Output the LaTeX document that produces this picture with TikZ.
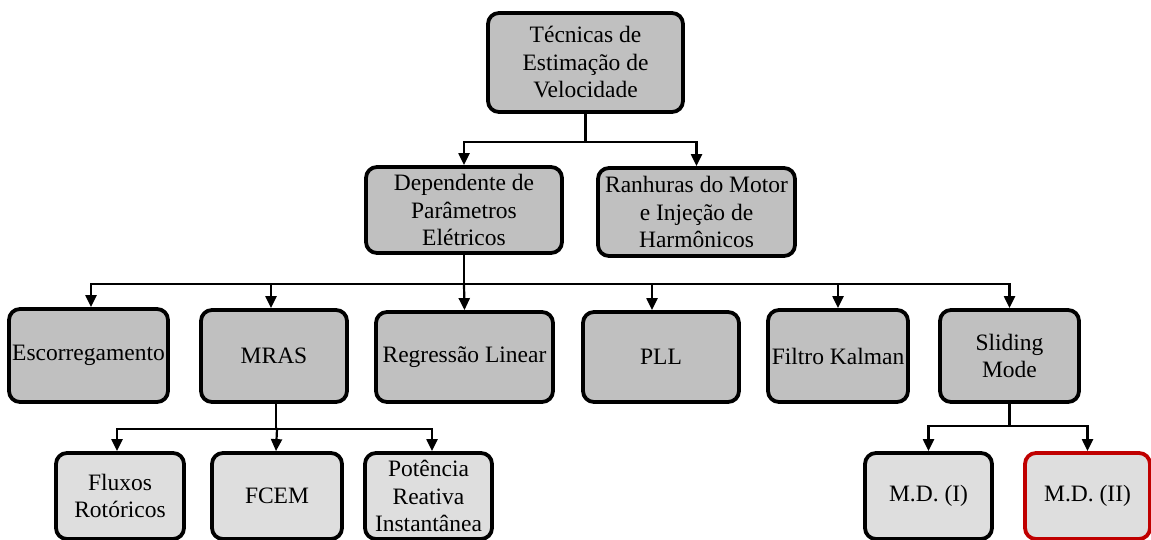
\documentclass[tikz,border=0pt]{standalone}
\usepackage{fontspec}
\setmainfont{Liberation Serif}
\newfontfamily\boxfont{Liberation Serif}
\usetikzlibrary{arrows.meta}
\definecolor{boxgray}{HTML}{C0C0C0}
\definecolor{leafgray}{HTML}{DEDEDE}
\definecolor{darkred}{HTML}{C00000}
\begin{document}
\begin{tikzpicture}[x=1pt,y=-1pt,
  every node/.style={font=\boxfont\fontsize{23.5}{27.5}\selectfont, align=center, inner sep=0pt},
  blk/.style={draw=black, line width=3.8pt, rounded corners=11pt, fill=boxgray,
              minimum width=#1, minimum height=88pt},
  blk/.default=150pt,
  leaf/.style={blk=#1, fill=leafgray, minimum height=86pt},
  conn/.style={draw=black, line width=2.2pt},
  arr/.style={conn, -{Triangle[length=12pt,width=11pt]}}]
\useasboundingbox (0,0) rectangle (1151,540);

% root
\node[blk=195pt, minimum height=99pt] (root) at (585.5,62.5)
  {Técnicas de\\Estimação de\\Velocidade};

% second level
\node[blk=196pt, minimum height=86pt] (dep) at (464,210)
  {Dependente de\\Parâmetros\\Elétricos};
\node[blk=197pt] (ran) at (696.5,212)
  {Ranhuras do Motor\\e Injeção de\\Harmônicos};

% third level
\node[blk=159pt, minimum height=93pt] (esc) at (88.5,355.5) {Escorregamento};
\node[blk=146pt, minimum height=92pt] (mras) at (274,356) {MRAS};
\node[blk=177pt, minimum height=90pt] (reg) at (464.5,357) {Regressão Linear};
\node[blk=156pt, minimum height=90pt] (pll) at (661,357) {PLL};
\node[blk=140pt, minimum height=92pt] (kal) at (838,356) {Filtro Kalman};
\node[blk=139pt, minimum height=92pt] (slm) at (1009.5,356) {Sliding\\Mode};

% leaves
\node[leaf=128pt] (flx) at (120,496) {Fluxos\\Rotóricos};
\node[leaf=130pt] (fcem) at (277,496) {FCEM};
\node[leaf=127pt] (pot) at (428.5,496) {Potência\\Reativa\\Instantânea};
\node[leaf=127pt] (md1) at (928.5,496) {M.D. (I)};
\node[leaf=125pt, draw=darkred] (md2) at (1087.5,496) {M.D. (II)};

% junctions of the branch lines
\coordinate (j1) at (585.5,142);
\coordinate (j2) at (464,284);
\coordinate (j3) at (276,429);
\coordinate (j4) at (1009.5,426);

% root branches
\draw[conn] (root.south) -- (j1);
\draw[arr] (j1) -| (dep.north);
\draw[arr] (j1) -| (ran.north);

% parameter-dependent branches
\draw[conn] (dep.south) -- (j2);
\draw[arr] (j2) -| ([xshift=2.5pt]esc.north);
\draw[arr] (j2) -| ([xshift=-3pt]mras.north);
\draw[arr] (j2) -- (reg.north);
\draw[arr] (j2) -| ([xshift=-9pt]pll.north);
\draw[arr] (j2) -| (kal.north);
\draw[arr] (j2) -| (slm.north);

% MRAS branches
\draw[conn] ([xshift=2pt]mras.south) -- (j3);
\draw[arr] (j3) -| ([xshift=-3pt]flx.north);
\draw[arr] (j3) -- (fcem.north |- j3) -- ([xshift=-1pt]fcem.north);
\draw[arr] (j3) -| ([xshift=3.5pt]pot.north);

% sliding mode branches
\draw[conn] (slm.south) -- (j4);
\draw[arr] (j4) -| (md1.north);
\draw[arr] (j4) -| (md2.north);
\end{tikzpicture}
\end{document}
